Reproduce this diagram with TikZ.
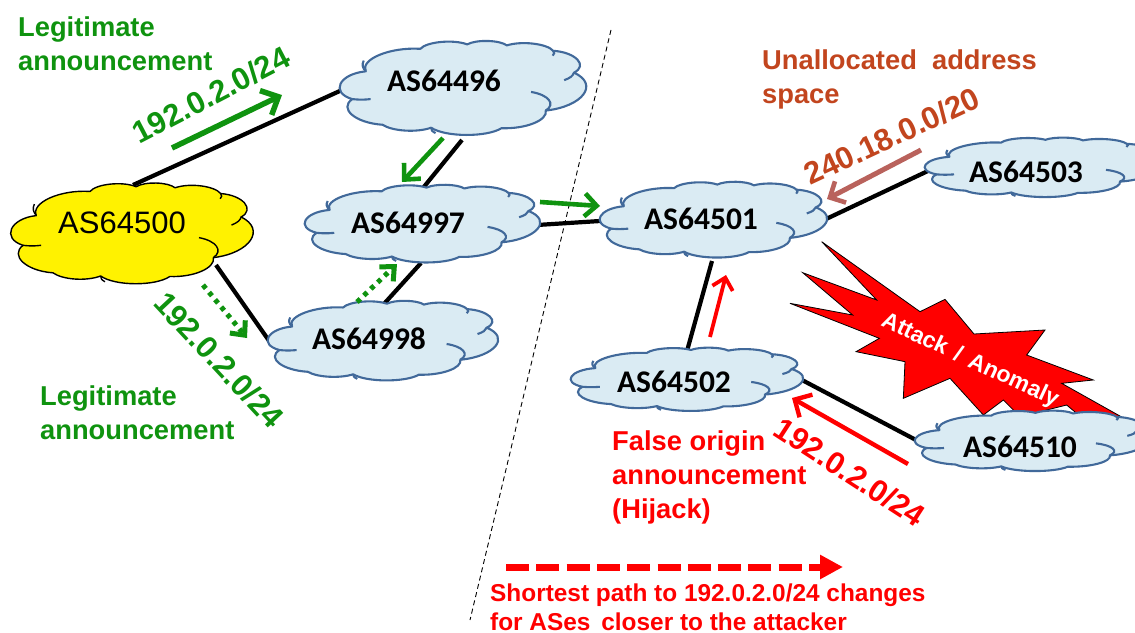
\documentclass[tikz,border=0pt]{standalone}
\usepackage{fontspec}
\setmainfont{Liberation Sans}
\newfontfamily\calfont{Carlito}
\usetikzlibrary{arrows.meta}
\definecolor{grn}{HTML}{0F930F}
\definecolor{brn}{HTML}{C2451E}
\definecolor{brnarrow}{HTML}{B9625C}
\definecolor{cloudblue}{HTML}{DAEBF3}
\definecolor{cloudedge}{HTML}{41699A}
\pgfdeclarelayer{conn}
\pgfdeclarelayer{cl}
\pgfsetlayers{conn,cl,main}
\newcommand{\cloudat}[7]{% x0 y0 w h fill edge width
\begin{scope}[shift={(#1,#2)},xscale=#3,yscale=#4]
\path[draw=#6,fill=#5,line width=#7,line join=round]
 (.105,.32) to[bend left=55] (.328,.09) to[bend left=58] (.519,.045) to[bend left=58] (.681,.055)
 to[bend left=55] (.87,.11) to[bend left=60] (.955,.333) to[bend left=58] (.84,.72)
 to[bend left=50] (.659,.90) to[bend left=58] (.372,.895) to[bend left=50] (.174,.865)
 to[bend left=55] (.05,.603) to[bend left=65] cycle;
\draw[#6,line width=#7] (.105,.32) to[bend left=15] (.097,.21);
\draw[#6,line width=#7] (.87,.11) to[bend left=20] (.868,.16);
\draw[#6,line width=#7] (.915,.41) to[bend right=20] (.955,.333);
\draw[#6,line width=#7] (.78,.53) to[bend left=50] (.84,.72);
\draw[#6,line width=#7] (.05,.603) to[bend right=15] (.125,.603);
\draw[#6,line width=#7] (.372,.895) to[bend right=20] (.39,.95);
\end{scope}}
\tikzset{
 asname/.style={inner sep=0pt,font=\calfont\bfseries\fontsize{31.5}{34}\selectfont},
 lab/.style={inner sep=0pt,anchor=west,align=left,font=\bfseries\fontsize{27.3}{34}\selectfont},
 rotlab/.style={inner sep=0pt,font=\bfseries\fontsize{31}{34}\selectfont},
 link/.style={line width=4.2pt,black},
 grnarrow/.style={grn,line width=5.5pt,-{Straight Barb[length=14pt,width=27pt,line width=5.5pt]}},
 grnsmall/.style={grn,line width=4.6pt,-{Straight Barb[length=12pt,width=23pt,line width=4.6pt]}},
 dotarrow/.style={grn,line width=5pt,dash pattern=on 4.5pt off 5pt,-{Straight Barb[length=11pt,width=20pt,line width=5pt,sep=0pt]}},
 redarrow/.style={red,line width=4.4pt,-{Straight Barb[length=13pt,width=26pt,line width=4.4pt]}},
}
\begin{document}
\begin{tikzpicture}[x=1pt,y=-1pt]
\useasboundingbox (0,0) rectangle (1135,632);
\clip (0,0) rectangle (1135,632);
% names
\node[inner sep=0pt,font=\fontsize{31}{34}\selectfont] (as500) at (122,223) {AS64500};
\node[asname] (as496) at (444,81) {AS64496};
\node[asname] (as997) at (408,223) {AS64997};
\node[asname] (as998) at (369,339) {AS64998};
\node[asname] (as501) at (701,219) {AS64501};
\node[asname] (as502) at (674,382) {AS64502};
\node[asname] (as503) at (1026,172) {AS64503};
\node[asname] (as510) at (1020,447) {AS64510};
\begin{pgfonlayer}{conn}
\draw[link] ([shift={(11,-38)}]as500.center) -- ([shift={(-102,9)}]as496.center);
\draw[link] ([shift={(94,42)}]as500.center) -- ([shift={(-97,6)}]as998.center);
\draw[link] ([shift={(18,59)}]as496.center) -- ([shift={(15,-35)}]as997.center);
\draw[link] ([shift={(13,40)}]as997.center) -- ([shift={(14,-34)}]as998.center);
\draw[link] ([shift={(129,2)}]as997.center) -- ([shift={(-101,2)}]as501.center);
\draw[link] ([shift={(123,1)}]as501.center) -- ([shift={(-96,-2)}]as503.center);
\draw[link] ([shift={(11,42)}]as501.center) -- ([shift={(13,-31)}]as502.center);
\draw[link] ([shift={(128,-2)}]as502.center) -- ([shift={(-104,-7)}]as510.center);
\end{pgfonlayer}
\begin{pgfonlayer}{cl}
\cloudat{11}{182}{241}{105}{yellow}{black}{1.4pt}
\cloudat{340}{40}{245}{98}{cloudblue}{cloudedge}{2.1pt}
\cloudat{305}{184}{234}{81}{cloudblue}{cloudedge}{2.1pt}
\cloudat{268}{300}{229}{83}{cloudblue}{cloudedge}{2.1pt}
\cloudat{600}{181}{226}{79}{cloudblue}{cloudedge}{2.1pt}
\cloudat{571}{347}{231}{66}{cloudblue}{cloudedge}{2.1pt}
% star
\begin{scope}[shift={(780,230)},scale=1/3]
\path[fill=red,draw=black,line width=.8pt,line join=miter]
 (125,35)--(290,210)--(68,128)--(218,255)--(30,220)--(298,325)--(228,365)--(375,395)--(370,505)
 --(510,445)--(610,555)--(670,510)--(720,560)--(860,525)--(890,550)--(1050,575)
 --(845,460)--(940,450)--(740,375)--(795,300)--(582,312)--(495,208)--(420,245)--cycle;
\end{scope}
\cloudat{925}{137}{232}{62}{cloudblue}{cloudedge}{2.1pt}
\cloudat{915}{410}{232}{63}{cloudblue}{cloudedge}{2.1pt}
\end{pgfonlayer}
% divider
\coordinate (d1) at (611,30);
\coordinate (d2) at (470,620);
\draw[black,line width=.9pt,dash pattern=on 5pt off 3.5pt] (d1) -- (d2);
% arrows
\coordinate (a1s) at (172,148); \coordinate (a1e) at (282,95);
\draw[grnarrow] (a1s) -- (a1e);
\coordinate (a2s) at (443,138); \coordinate (a2e) at (402,182);
\draw[grnsmall] (a2s) -- (a2e);
\coordinate (a3s) at (540,202); \coordinate (a3e) at (600,206);
\draw[grnsmall] (a3s) -- (a3e);
\coordinate (a4s) at (203,285); \coordinate (a4e) at (247,338);
\draw[dotarrow] (a4s) -- (a4e);
\coordinate (a5s) at (357,302); \coordinate (a5e) at (397,264);
\draw[dotarrow] (a5s) -- (a5e);
\coordinate (r1s) at (710,337); \coordinate (r1e) at (726,275);
\draw[red,line width=3.8pt,-{Straight Barb[length=11pt,width=21pt,line width=3.8pt]}] (r1s) -- (r1e);
\coordinate (r2s) at (908,464); \coordinate (r2e) at (792,398);
\draw[redarrow] (r2s) -- (r2e);
\coordinate (b1s) at (921,150); \coordinate (b1e) at (827,199);
\draw[brnarrow,line width=5pt,-{Straight Barb[length=12pt,width=24pt,line width=4.6pt]}] (b1s) -- (b1e);
\coordinate (r3s) at (506,567); \coordinate (r3e) at (843,567);
\draw[red,line width=7pt,dash pattern=on 23pt off 7.3pt,-{Triangle[length=23pt,width=23pt]}] (r3s) -- (r3e);
% labels
\node[lab,text=grn] (l1) at (18,44) {Legitimate\\announcement};
\node[lab,text=grn] (l2) at (40,413) {Legitimate\\announcement};
\node[rotlab,text=grn,rotate=27.5] (p1) at (211,95) {192.0.2.0/24};
\node[rotlab,text=grn,rotate=-47] (p2) at (219,360) {192.0.2.0/24};
\node[lab,text=brn] (u1) at (762,79) {Unallocated\ \ address\\space};
\node[rotlab,text=brn,rotate=25] (p3) at (892,136) {240.18.0.0/20};
\node[lab,text=red] (f1) at (612,477) {False origin\\announcement\\(Hijack)};
\node[rotlab,text=red,rotate=-33] (p4) at (850,472) {192.0.2.0/24};
\node[lab,text=red,font=\bfseries\fontsize{24.4}{29}\selectfont] (s1) at (490,607) {Shortest path to 192.0.2.0/24 changes\\for ASes\ \,closer to the attacker};
\node[inner sep=0pt,text=white,rotate=-25,font=\bfseries\fontsize{23}{28}\selectfont] (att) at (970,361) {Attack\hspace{3pt} / \hspace{3pt}Anomaly};
\end{tikzpicture}
\end{document}
